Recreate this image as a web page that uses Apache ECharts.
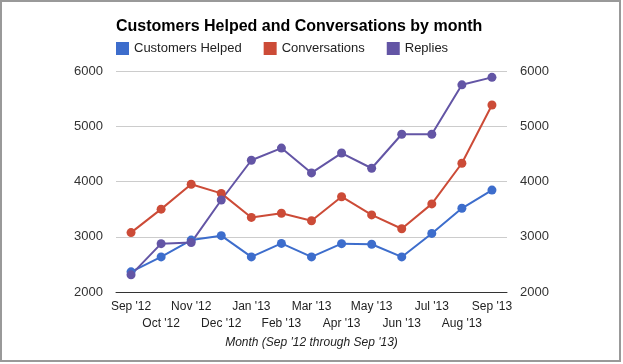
<!DOCTYPE html>
<html>
<head>
<meta charset="utf-8">
<script src="https://cdn.jsdelivr.net/npm/echarts@6/dist/echarts.min.js"></script>
<style>
html,body{margin:0;padding:0;background:#fff;}
#chart{width:623px;height:364px;}
</style>
</head>
<body>
<div id="chart"></div>
<script>
const months = ["Sep '12","Oct '12","Nov '12","Dec '12","Jan '13","Feb '13","Mar '13","Apr '13","May '13","Jun '13","Jul '13","Aug '13","Sep '13"];
const customersHelped = [2365, 2635, 2940, 3020, 2635, 2880, 2635, 2875, 2865, 2635, 3060, 3515, 3845];
const conversations = [3075, 3500, 3950, 3785, 3350, 3425, 3290, 3725, 3395, 3145, 3595, 4330, 5385];
const replies = [2310, 2875, 2895, 3665, 4385, 4605, 4155, 4515, 4240, 4855, 4855, 5750, 5885];
const yTicks = {min: 2000, max: 6000, interval: 1000};

const FONT = "'Liberation Sans', Arial, sans-serif";
const chart = echarts.init(document.getElementById('chart'), null, {renderer: 'canvas'});
const mkSeries = (name, data, color) => ({
  name, type: 'line', data, yAxisIndex: 0,
  symbol: 'circle', symbolSize: 9, showSymbol: true,
  lineStyle: {width: 2, color}, itemStyle: {color},
  emphasis: {disabled: true}, animation: false
});
const plain = v => String(v);
chart.setOption({
  animation: false,
  color: ['#3d6dcc', '#cc4b37', '#6355a5'],
  title: {
    text: 'Customers Helped and Conversations by month',
    left: 116, top: 19, padding: 0,
    textStyle: {fontFamily: FONT, fontSize: 16, fontWeight: 'bold', color: '#000'}
  },
  legend: {
    left: 116, top: 42, padding: 0, itemWidth: 13, itemHeight: 13, itemGap: 22,
    icon: 'rect',
    textStyle: {fontFamily: FONT, fontSize: 13, color: '#222'},
    data: ['Customers Helped', 'Conversations', 'Replies']
  },
  grid: {left: 116, right: 116, top: 71, bottom: 72},
  xAxis: {
    type: 'category', data: months, boundaryGap: true,
    axisLine: {lineStyle: {color: '#333', width: 1}},
    axisTick: {show: false},
    axisLabel: {
      interval: 0, fontFamily: FONT, fontSize: 12, color: '#222', margin: 6, lineHeight: 17,
      formatter: (v, i) => (i % 2 ? '\n' + v : v)
    },
    name: "Month (Sep '12 through Sep '13)",
    nameLocation: 'middle', nameGap: 45,
    nameTextStyle: {fontFamily: FONT, fontSize: 12, fontStyle: 'italic', color: '#222'}
  },
  yAxis: [
    {type: 'value', position: 'left', min: yTicks.min, max: yTicks.max, interval: yTicks.interval,
     axisLine: {show: false}, axisTick: {show: false},
     splitLine: {lineStyle: {color: '#cccccc'}},
     axisLabel: {fontFamily: FONT, fontSize: 13, color: '#333', margin: 13, formatter: plain}},
    {type: 'value', position: 'right', min: yTicks.min, max: yTicks.max, interval: yTicks.interval,
     axisLine: {show: false}, axisTick: {show: false}, splitLine: {show: false},
     axisLabel: {fontFamily: FONT, fontSize: 13, color: '#333', margin: 13, formatter: plain}}
  ],
  series: [
    mkSeries('Customers Helped', customersHelped, '#3d6dcc'),
    mkSeries('Conversations', conversations, '#cc4b37'),
    mkSeries('Replies', replies, '#6355a5')
  ],
  graphic: [
    {type: 'rect', shape: {x: 1, y: 1, width: 619, height: 360},
     style: {fill: 'none', stroke: '#999', lineWidth: 2}, silent: true}
  ]
});
</script>
</body>
</html>
